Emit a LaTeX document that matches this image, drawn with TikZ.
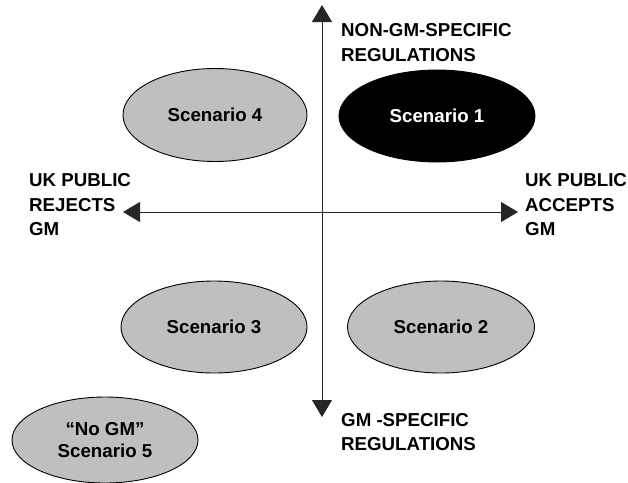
\documentclass[tikz,border=0pt]{standalone}
\usepackage{fontspec}
\setmainfont{Liberation Sans}
\usetikzlibrary{shapes.geometric,arrows.meta}

\begin{document}
\begin{tikzpicture}[x=1pt,y=-1pt,
  scenario/.style={ellipse,draw=black,line width=0.9pt,fill=black!25,inner sep=0pt,
    align=center,font=\fontsize{18.7}{21.5}\selectfont\bfseries},
  axislabel/.style={anchor=west,inner sep=0pt,align=left,
    font=\fontsize{18.7}{24.5}\selectfont\bfseries},
  axisline/.style={line width=1pt,black!85,
    {Triangle[length=17pt,width=20pt]}-{Triangle[length=17pt,width=20pt]}}]
  \useasboundingbox (0,0) rectangle (628,482);
  \coordinate (axtop) at (322,5);
  \coordinate (axbot) at (322,417);
  \coordinate (axleft) at (123,212);
  \coordinate (axright) at (518,212);
  \draw[axisline] (axtop) -- (axbot);
  \draw[axisline] (axleft) -- (axright);
  \node[axislabel] (nongm) at (341,42.5) {NON-GM-SPECIFIC\\REGULATIONS};
  \node[axislabel] (gmspec) at (341,432) {GM -SPECIFIC\\REGULATIONS};
  \node[axislabel] (rejects) at (29,205) {UK PUBLIC\\REJECTS\\GM};
  \node[axislabel] (accepts) at (525,205) {UK PUBLIC\\ACCEPTS\\GM};
  \node[scenario,minimum width=184,minimum height=93] (sc4) at (215,115) {Scenario 4};
  \node[scenario,minimum width=196,minimum height=92,fill=black,text=white] (sc1) at (437,116) {Scenario 1};
  \node[scenario,minimum width=186,minimum height=92] (sc3) at (214,327) {Scenario 3};
  \node[scenario,minimum width=187,minimum height=92] (sc2) at (441,327) {Scenario 2};
  \node[scenario,minimum width=186,minimum height=86] (sc5) at (105,440) {“No GM”\\Scenario 5};
\end{tikzpicture}
\end{document}
